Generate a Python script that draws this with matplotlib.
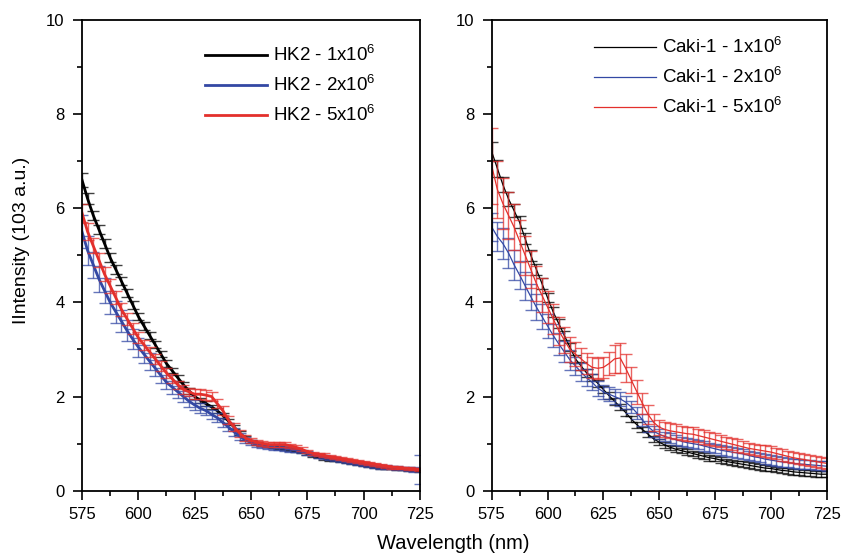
import numpy as np
import matplotlib
matplotlib.use('Agg')
import matplotlib.pyplot as plt

plt.rcParams['font.family'] = ['Liberation Sans', 'DejaVu Sans']
plt.rcParams['mathtext.fontset'] = 'custom'
plt.rcParams['mathtext.rm'] = 'Liberation Sans'
plt.rcParams['mathtext.it'] = 'Liberation Sans'

# 波长 (nm), 步长 2.5
wavelength = np.arange(575, 725.1, 2.5)

# 左图 HK2
hk2_1 = [6.6, 6.2, 5.85, 5.55, 5.25, 4.95, 4.7, 4.45, 4.2, 3.95,
         3.7, 3.5, 3.3, 3.1, 2.9, 2.7, 2.55, 2.4, 2.25, 2.12,
         2.0, 1.92, 1.85, 1.78, 1.7, 1.6, 1.48, 1.35, 1.22, 1.12,
         1.05, 1.0, 0.97, 0.95, 0.93, 0.91, 0.9, 0.88, 0.85, 0.82,
         0.79, 0.75, 0.72, 0.69, 0.66, 0.64, 0.62, 0.6, 0.58, 0.56,
         0.54, 0.52, 0.5, 0.49, 0.48, 0.47, 0.46, 0.45, 0.44, 0.43, 0.42]
hk2_2 = [5.5, 5.1, 4.8, 4.5, 4.25, 4.0, 3.8, 3.6, 3.4, 3.22,
         3.05, 2.9, 2.75, 2.6, 2.45, 2.3, 2.2, 2.1, 2.0, 1.9,
         1.82, 1.75, 1.7, 1.62, 1.55, 1.45, 1.35, 1.25, 1.15, 1.08,
         1.02, 0.98, 0.95, 0.93, 0.92, 0.91, 0.9, 0.88, 0.86, 0.83,
         0.8, 0.77, 0.74, 0.71, 0.69, 0.67, 0.64, 0.62, 0.6, 0.58,
         0.56, 0.55, 0.53, 0.51, 0.5, 0.49, 0.48, 0.47, 0.46, 0.45, 0.45]
hk2_5 = [5.9, 5.5, 5.2, 4.9, 4.6, 4.35, 4.1, 3.85, 3.65, 3.45,
         3.25, 3.1, 2.95, 2.8, 2.65, 2.5, 2.38, 2.25, 2.15, 2.1,
         2.05, 2.05, 2.03, 2.0, 1.85, 1.7, 1.5, 1.35, 1.22, 1.12,
         1.07, 1.03, 1.0, 0.98, 0.98, 0.98, 0.98, 0.95, 0.92, 0.88,
         0.83, 0.79, 0.77, 0.75, 0.72, 0.7, 0.68, 0.66, 0.64, 0.62,
         0.6, 0.58, 0.56, 0.54, 0.52, 0.5, 0.49, 0.48, 0.47, 0.46, 0.45]
hk2_1_err = [0.15, 0.12, 0.1, 0.1, 0.1, 0.1, 0.09, 0.09, 0.08, 0.08,
             0.08, 0.08, 0.07, 0.07, 0.07, 0.07, 0.06, 0.06, 0.06, 0.06,
             0.05, 0.05, 0.05, 0.05, 0.05, 0.05, 0.04, 0.04, 0.04, 0.04,
             0.03, 0.03, 0.03, 0.03, 0.03, 0.03, 0.03, 0.03, 0.03, 0.03,
             0.03, 0.03, 0.03, 0.03, 0.02, 0.02, 0.02, 0.02, 0.02, 0.02,
             0.02, 0.02, 0.02, 0.02, 0.02, 0.02, 0.02, 0.02, 0.02, 0.02, 0.02]
hk2_2_err = [0.35, 0.3, 0.28, 0.27, 0.26, 0.25, 0.24, 0.23, 0.22, 0.21,
             0.2, 0.19, 0.18, 0.17, 0.16, 0.15, 0.14, 0.13, 0.12, 0.12,
             0.11, 0.11, 0.1, 0.1, 0.1, 0.09, 0.09, 0.08, 0.08, 0.07,
             0.06, 0.05, 0.05, 0.05, 0.05, 0.05, 0.05, 0.05, 0.04, 0.04,
             0.04, 0.04, 0.04, 0.04, 0.04, 0.04, 0.04, 0.04, 0.04, 0.04,
             0.04, 0.04, 0.04, 0.04, 0.04, 0.04, 0.04, 0.04, 0.04, 0.06, 0.3]
hk2_5_err = [0.2, 0.18, 0.16, 0.15, 0.15, 0.14, 0.14, 0.13, 0.13, 0.12,
             0.12, 0.11, 0.11, 0.1, 0.1, 0.1, 0.09, 0.09, 0.09, 0.09,
             0.1, 0.1, 0.1, 0.1, 0.1, 0.1, 0.09, 0.08, 0.07, 0.06,
             0.05, 0.05, 0.05, 0.05, 0.05, 0.05, 0.05, 0.04, 0.04, 0.04,
             0.04, 0.04, 0.04, 0.04, 0.03, 0.03, 0.03, 0.03, 0.03, 0.03,
             0.03, 0.03, 0.03, 0.03, 0.03, 0.03, 0.03, 0.03, 0.03, 0.03, 0.03]

# 右图 Caki-1
caki_1 = [7.2, 6.85, 6.5, 6.2, 5.95, 5.7, 5.35, 5.0, 4.7, 4.4,
          4.1, 3.8, 3.55, 3.3, 3.05, 2.8, 2.65, 2.5, 2.4, 2.28,
          2.15, 2.02, 1.9, 1.78, 1.66, 1.52, 1.4, 1.3, 1.2, 1.1,
          1.03, 0.97, 0.92, 0.88, 0.85, 0.82, 0.79, 0.76, 0.73, 0.7,
          0.68, 0.65, 0.62, 0.6, 0.58, 0.56, 0.54, 0.52, 0.5, 0.48,
          0.47, 0.45, 0.43, 0.42, 0.4, 0.39, 0.38, 0.37, 0.36, 0.35, 0.35]
caki_2 = [5.6, 5.4, 5.25, 5.05, 4.8, 4.58, 4.35, 4.12, 3.9, 3.7,
          3.5, 3.3, 3.12, 2.95, 2.78, 2.65, 2.52, 2.4, 2.3, 2.18,
          2.1, 2.05, 2.0, 1.95, 1.88, 1.78, 1.65, 1.5, 1.36, 1.26,
          1.2, 1.15, 1.12, 1.08, 1.05, 1.02, 1.0, 0.98, 0.95, 0.92,
          0.89, 0.86, 0.84, 0.82, 0.8, 0.78, 0.75, 0.72, 0.7, 0.67,
          0.65, 0.63, 0.61, 0.6, 0.58, 0.57, 0.56, 0.55, 0.54, 0.53, 0.52]
caki_5 = [6.9, 6.4, 6.1, 5.85, 5.6, 5.3, 5.0, 4.7, 4.4, 4.15,
          3.9, 3.65, 3.4, 3.2, 3.0, 2.9, 2.8, 2.7, 2.62, 2.6,
          2.62, 2.7, 2.8, 2.82, 2.6, 2.35, 2.1, 1.85, 1.62, 1.45,
          1.35, 1.3, 1.27, 1.25, 1.23, 1.21, 1.2, 1.17, 1.14, 1.11,
          1.08, 1.05, 1.02, 0.99, 0.96, 0.93, 0.9, 0.88, 0.86, 0.84,
          0.82, 0.79, 0.76, 0.73, 0.7, 0.68, 0.66, 0.64, 0.62, 0.6, 0.58]
caki_1_err = [0.2, 0.18, 0.16, 0.15, 0.14, 0.13, 0.12, 0.12, 0.11, 0.11,
              0.1, 0.1, 0.1, 0.09, 0.09, 0.09, 0.08, 0.08, 0.08, 0.08,
              0.07, 0.07, 0.07, 0.07, 0.07, 0.07, 0.06, 0.06, 0.06, 0.06,
              0.06, 0.06, 0.06, 0.06, 0.06, 0.06, 0.06, 0.06, 0.06, 0.06,
              0.06, 0.06, 0.06, 0.06, 0.06, 0.06, 0.06, 0.06, 0.06, 0.06,
              0.06, 0.06, 0.06, 0.06, 0.06, 0.06, 0.06, 0.06, 0.06, 0.06, 0.06]
caki_2_err = [0.3, 0.3, 0.32, 0.32, 0.32, 0.3, 0.3, 0.28, 0.27, 0.26,
              0.25, 0.24, 0.23, 0.22, 0.21, 0.2, 0.19, 0.18, 0.17, 0.16,
              0.15, 0.15, 0.15, 0.15, 0.14, 0.13, 0.12, 0.12, 0.11, 0.11,
              0.1, 0.1, 0.1, 0.1, 0.1, 0.1, 0.1, 0.1, 0.1, 0.1,
              0.1, 0.1, 0.1, 0.1, 0.1, 0.1, 0.1, 0.1, 0.1, 0.1,
              0.1, 0.1, 0.1, 0.1, 0.1, 0.1, 0.1, 0.1, 0.1, 0.1, 0.1]
caki_5_err = [0.8, 0.6, 0.55, 0.5, 0.48, 0.45, 0.42, 0.4, 0.38, 0.36,
              0.34, 0.32, 0.3, 0.28, 0.26, 0.25, 0.24, 0.23, 0.22, 0.22,
              0.22, 0.25, 0.3, 0.32, 0.3, 0.28, 0.25, 0.22, 0.2, 0.18,
              0.16, 0.16, 0.16, 0.16, 0.15, 0.15, 0.15, 0.14, 0.14, 0.14,
              0.14, 0.13, 0.13, 0.13, 0.13, 0.12, 0.12, 0.12, 0.12, 0.12,
              0.12, 0.12, 0.12, 0.12, 0.12, 0.12, 0.12, 0.12, 0.12, 0.12, 0.12]

labels_left = [r'HK2 - 1x10$^6$', r'HK2 - 2x10$^6$', r'HK2 - 5x10$^6$']
labels_right = [r'Caki-1 - 1x10$^6$', r'Caki-1 - 2x10$^6$', r'Caki-1 - 5x10$^6$']
colors = ['#000000', '#3348a4', '#e3302c']

fig = plt.figure(figsize=(8.41, 5.53), dpi=100)
ax1 = fig.add_axes([0.0975, 0.1127, 0.4019, 0.8512])
ax2 = fig.add_axes([0.5847, 0.1127, 0.3983, 0.8512])


def draw_panel(ax, series, errs, labels, lw):
    handles = []
    for y, e, c, lab in zip(series, errs, colors, labels):
        ax.errorbar(wavelength, y, yerr=e, fmt='none', ecolor=c,
                    elinewidth=1.0, capsize=4, capthick=1.0, alpha=0.75)
        h, = ax.plot(wavelength, y, color=c, lw=lw, label=lab)
        handles.append(h)
    ax.set_xlim(575, 725)
    ax.set_ylim(0, 10)
    ax.set_xticks(np.arange(575, 726, 25))
    ax.set_xticks(np.arange(575, 726, 12.5), minor=True)
    ax.set_yticks(np.arange(0, 11, 2))
    ax.set_yticks(np.arange(0, 11, 1), minor=True)
    ax.tick_params(which='both', direction='out', width=1.2, labelsize=12,
                   top=False, right=False)
    ax.tick_params(which='major', length=6.5)
    ax.tick_params(axis='x', which='major', pad=5)
    ax.tick_params(axis='y', which='major', pad=6)
    ax.tick_params(which='minor', length=3.5)
    for s in ax.spines.values():
        s.set_linewidth(1.3)
    return handles


h1 = draw_panel(ax1, [hk2_1, hk2_2, hk2_5], [hk2_1_err, hk2_2_err, hk2_5_err],
                labels_left, 2.0)
h2 = draw_panel(ax2, [caki_1, caki_2, caki_5], [caki_1_err, caki_2_err, caki_5_err],
                labels_right, 0.9)

ax1.legend(handles=h1, loc='upper left', bbox_to_anchor=(0.364, 0.946),
           frameon=False, fontsize=13.5, handlelength=3.3, handletextpad=0.32,
           labelspacing=0.52, borderpad=0, borderaxespad=0)
ax2.legend(handles=h2, loc='upper left', bbox_to_anchor=(0.305, 0.963),
           frameon=False, fontsize=13.5, handlelength=3.3, handletextpad=0.32,
           labelspacing=0.52, borderpad=0, borderaxespad=0)

fig.text(0.026, 0.566, 'IIntensity (103 a.u.)', rotation=90, ha='center',
         va='center', fontsize=14)
fig.text(0.539, 0.018, 'Wavelength (nm)', ha='center', va='center', fontsize=14.5)

fig.savefig('out.png', dpi=100)
